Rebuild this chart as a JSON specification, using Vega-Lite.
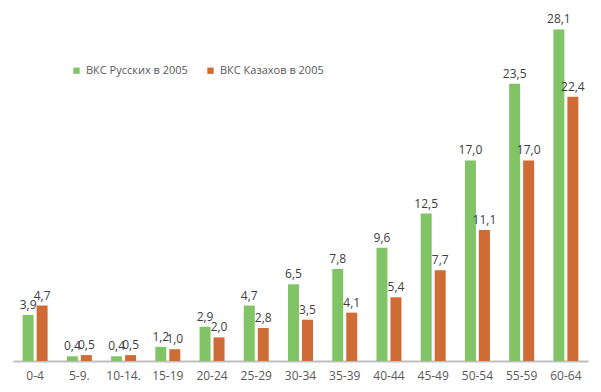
{
  "$schema": "https://vega.github.io/schema/vega-lite/v6.json",
  "width": 575,
  "height": 354,
  "autosize": {"type": "none"},
  "padding": {"left": 13, "top": 7, "right": 13, "bottom": 31},
  "background": "white",
  "config": {
    "view": {"stroke": null},
    "font": "Open Sans",
    "locale": {"number": {"decimal": ",", "thousands": " ", "grouping": [3], "currency": ["", ""]}}
  },
  "data": {
    "values": [
      {"age": "0-4", "group": "ВКС Русских  в 2005", "value": 3.9},
      {"age": "0-4", "group": "ВКС Казахов в 2005", "value": 4.7},
      {"age": "5-9.", "group": "ВКС Русских  в 2005", "value": 0.4},
      {"age": "5-9.", "group": "ВКС Казахов в 2005", "value": 0.5},
      {"age": "10-14.", "group": "ВКС Русских  в 2005", "value": 0.4},
      {"age": "10-14.", "group": "ВКС Казахов в 2005", "value": 0.5},
      {"age": "15-19", "group": "ВКС Русских  в 2005", "value": 1.2},
      {"age": "15-19", "group": "ВКС Казахов в 2005", "value": 1.0},
      {"age": "20-24", "group": "ВКС Русских  в 2005", "value": 2.9},
      {"age": "20-24", "group": "ВКС Казахов в 2005", "value": 2.0},
      {"age": "25-29", "group": "ВКС Русских  в 2005", "value": 4.7},
      {"age": "25-29", "group": "ВКС Казахов в 2005", "value": 2.8},
      {"age": "30-34", "group": "ВКС Русских  в 2005", "value": 6.5},
      {"age": "30-34", "group": "ВКС Казахов в 2005", "value": 3.5},
      {"age": "35-39", "group": "ВКС Русских  в 2005", "value": 7.8},
      {"age": "35-39", "group": "ВКС Казахов в 2005", "value": 4.1},
      {"age": "40-44", "group": "ВКС Русских  в 2005", "value": 9.6},
      {"age": "40-44", "group": "ВКС Казахов в 2005", "value": 5.4},
      {"age": "45-49", "group": "ВКС Русских  в 2005", "value": 12.5},
      {"age": "45-49", "group": "ВКС Казахов в 2005", "value": 7.7},
      {"age": "50-54", "group": "ВКС Русских  в 2005", "value": 17.0},
      {"age": "50-54", "group": "ВКС Казахов в 2005", "value": 11.1},
      {"age": "55-59", "group": "ВКС Русских  в 2005", "value": 23.5},
      {"age": "55-59", "group": "ВКС Казахов в 2005", "value": 17.0},
      {"age": "60-64", "group": "ВКС Русских  в 2005", "value": 28.1},
      {"age": "60-64", "group": "ВКС Казахов в 2005", "value": 22.4}
    ]
  },
  "encoding": {
    "x": {
      "field": "age", "type": "nominal", "sort": null,
      "scale": {"paddingInner": 0.435, "paddingOuter": 0.2175},
      "axis": {
        "title": null, "labelAngle": 0, "ticks": false,
        "domainColor": "#bfbfbf", "domainWidth": 2,
        "labelColor": "#595959", "labelFontSize": 12, "labelPadding": 9
      }
    },
    "xOffset": {
      "field": "group", "type": "nominal", "sort": ["ВКС Русских  в 2005", "ВКС Казахов в 2005"],
      "scale": {"paddingInner": 0.214, "paddingOuter": 0}
    },
    "y": {
      "field": "value", "type": "quantitative",
      "scale": {"domain": [0, 30], "nice": false},
      "axis": null
    }
  },
  "layer": [
    {
      "mark": {"type": "bar"},
      "encoding": {
        "color": {
          "field": "group", "type": "nominal",
          "sort": ["ВКС Русских  в 2005", "ВКС Казахов в 2005"],
          "scale": {"domain": ["ВКС Русских  в 2005", "ВКС Казахов в 2005"], "range": ["#80c466", "#cf6c36"]},
          "legend": {
            "title": null, "orient": "none", "legendX": 58, "legendY": 58,
            "direction": "horizontal", "symbolType": "square", "symbolSize": 40,
            "symbolStrokeWidth": 0, "labelFontSize": 11, "labelColor": "#595959",
            "columnPadding": 14, "labelOffset": 4
          }
        }
      }
    },
    {
      "mark": {"type": "text", "baseline": "bottom", "dy": -3, "fontSize": 12, "color": "#404040"},
      "encoding": {
        "text": {"field": "value", "type": "quantitative", "format": ".1f"}
      }
    }
  ]
}
